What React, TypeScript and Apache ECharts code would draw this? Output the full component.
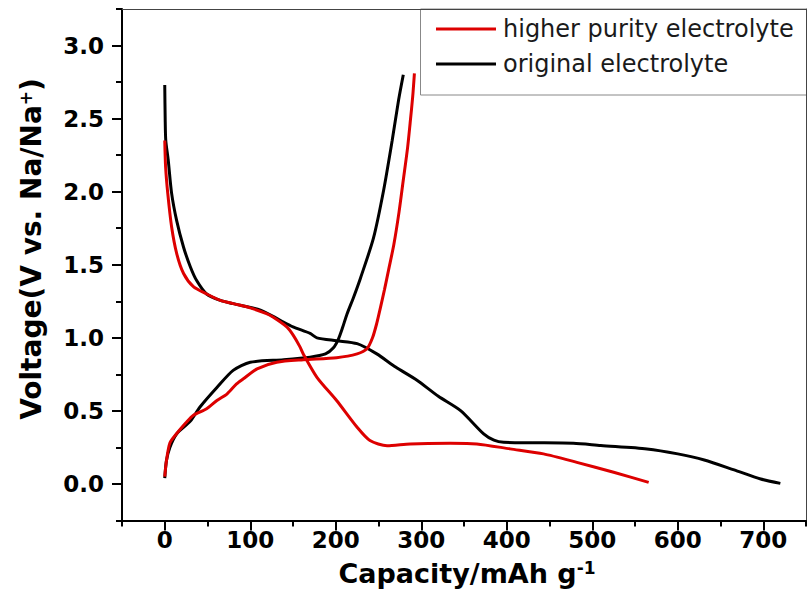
import React, { useEffect, useRef } from "react";
import * as echarts from "echarts";

const FONT = "DejaVu Sans";

const xMajorTicks = [0, 100, 200, 300, 400, 500, 600, 700];
const xMinorTicks = [-50, 50, 150, 250, 350, 450, 550, 650, 750];
const yMajorTicks = [0, 0.5, 1.0, 1.5, 2.0, 2.5, 3.0];
const yMinorTicks = [-0.25, 0.25, 0.75, 1.25, 1.75, 2.25, 2.75, 3.25];

const legendNames = ["higher purity electrolyte", "original electrolyte"];

// higher purity electrolyte: discharge
const redDischarge: [number, number][] = [
  [0, 2.35], [1, 2.17], [3.5, 1.99], [8, 1.76], [14, 1.576], [22, 1.44],
  [33.5, 1.35], [49, 1.3], [65, 1.256], [80, 1.234], [100, 1.205], [119, 1.165],
  [127, 1.14], [143, 1.073], [150, 1.02], [158, 0.94], [162, 0.89], [178, 0.73],
  [201, 0.571], [225, 0.388], [240, 0.297], [260, 0.262], [287, 0.274],
  [334, 0.278], [365, 0.274], [404, 0.24], [443, 0.206], [482, 0.148],
  [525, 0.08], [566, 0.011],
];
// higher purity electrolyte: charge
const redCharge: [number, number][] = [
  [0, 0.05], [2, 0.16], [6, 0.28], [14, 0.345], [25, 0.42], [33.5, 0.47],
  [49, 0.514], [61, 0.571], [73, 0.617], [84, 0.685], [92, 0.72], [108, 0.788],
  [131, 0.833], [162, 0.85], [201, 0.864], [225, 0.89], [236.5, 0.925],
  [243, 1.0], [248, 1.1], [252, 1.2], [257, 1.33], [262, 1.47], [268, 1.64],
  [274, 1.86], [279, 2.08], [284, 2.3], [287, 2.47], [290, 2.65], [292, 2.81],
];
// original electrolyte: discharge
const blackDischarge: [number, number][] = [
  [0, 2.73], [0.5, 2.5], [1.2, 2.35], [4, 2.22], [8, 1.99], [14, 1.8],
  [22, 1.62], [30, 1.485], [37.5, 1.39], [49, 1.3], [65, 1.256], [80, 1.234],
  [112, 1.19], [135, 1.12], [150, 1.075], [170, 1.03], [178, 1.0], [201, 0.98],
  [225, 0.96], [248, 0.89], [270, 0.8], [295, 0.71], [320, 0.6], [346, 0.502],
  [373, 0.343], [385, 0.3], [396.5, 0.285], [430, 0.282], [478, 0.278],
  [510, 0.263], [564, 0.24], [600, 0.206], [631, 0.164], [666, 0.096],
  [697, 0.034], [720, 0.004],
];
// original electrolyte: charge
const blackCharge: [number, number][] = [
  [0, 0.04], [2, 0.16], [6, 0.25], [14, 0.343], [30, 0.43], [41, 0.525],
  [61, 0.66], [80, 0.777], [100, 0.833], [139, 0.85], [170, 0.868],
  [188, 0.89], [197, 0.93], [203, 0.99], [208, 1.07], [213, 1.16],
  [221, 1.28], [229, 1.41], [244, 1.68], [256, 2.01], [266, 2.35],
  [273.5, 2.627], [279, 2.8],
];

const RED = "#dd0000";
const BLACK = "#000000";

export default function App() {
  const ref = useRef<HTMLDivElement>(null);
  useEffect(() => {
    if (!ref.current) return;
    const chart = echarts.init(ref.current, undefined, { renderer: "svg" });
    const lineSeries = (name: string, data: [number, number][], color: string) => ({
      name,
      type: "line",
      data,
      xAxisIndex: 0,
      yAxisIndex: 0,
      symbol: "none",
      smooth: 0.25,
      lineStyle: { color, width: 3 },
      itemStyle: { color },
      z: color === RED ? 3 : 2,
    });
    const tickLabelStyle = {
      fontFamily: FONT,
      fontSize: 23,
      fontWeight: "bold",
      color: "#000",
    };
    chart.setOption({
      animation: false,
      grid: { left: 122, right: 1, top: 9, bottom: 89.5, containLabel: false },
      legend: {
        data: legendNames,
        orient: "vertical",
        left: 436,
        top: 17,
        itemWidth: 60,
        itemHeight: 3,
        itemGap: 11,
        icon: "rect",
        padding: 0,
        textStyle: { fontFamily: FONT, fontSize: 24, color: "#1a1a1a", padding: [0, 0, 0, 2] },
      },
      xAxis: [
        {
          type: "value",
          min: -50,
          max: 750,
          interval: 50,
          position: "bottom",
          axisLine: { show: true, onZero: false, lineStyle: { color: "#000", width: 2 } },
          axisTick: { show: true, customValues: xMajorTicks, length: 10, lineStyle: { color: "#000", width: 2 } },
          axisLabel: { show: true, customValues: xMajorTicks, margin: 8, ...tickLabelStyle },
          splitLine: { show: false },
        },
        {
          type: "value",
          min: -50,
          max: 750,
          interval: 50,
          position: "bottom",
          axisLine: { show: false, onZero: false },
          axisTick: { show: true, customValues: xMinorTicks, length: 6, lineStyle: { color: "#000", width: 2 } },
          axisLabel: { show: false },
          splitLine: { show: false },
        },
        {
          type: "value",
          min: -50,
          max: 750,
          position: "top",
          axisLine: { show: true, onZero: false, lineStyle: { color: "#444", width: 1 } },
          axisTick: { show: false },
          axisLabel: { show: false },
          splitLine: { show: false },
        },
      ],
      yAxis: [
        {
          type: "value",
          min: -0.25,
          max: 3.25,
          interval: 0.25,
          position: "left",
          axisLine: { show: true, onZero: false, lineStyle: { color: "#000", width: 2 } },
          axisTick: { show: true, customValues: yMajorTicks, length: 10, lineStyle: { color: "#000", width: 2 } },
          axisLabel: {
            show: true,
            customValues: yMajorTicks,
            margin: 18,
            formatter: (v: number) => v.toFixed(1),
            ...tickLabelStyle,
          },
          splitLine: { show: false },
        },
        {
          type: "value",
          min: -0.25,
          max: 3.25,
          interval: 0.25,
          position: "left",
          axisLine: { show: false, onZero: false },
          axisTick: { show: true, customValues: yMinorTicks, length: 6, lineStyle: { color: "#000", width: 2 } },
          axisLabel: { show: false },
          splitLine: { show: false },
        },
        {
          type: "value",
          min: -0.25,
          max: 3.25,
          position: "right",
          axisLine: { show: true, onZero: false, lineStyle: { color: "#444", width: 1 } },
          axisTick: { show: false },
          axisLabel: { show: false },
          splitLine: { show: false },
        },
      ],
      graphic: [
        {
          type: "rect",
          shape: { x: 420.5, y: 9, width: 386, height: 86 },
          style: { fill: "none", stroke: "#888", lineWidth: 1 },
          silent: true,
        },
        {
          type: "text",
          x: 467,
          y: 573,
          style: {
            text: "{a|Capacity/mAh g}{s|-1}",
            align: "center",
            verticalAlign: "middle",
            rich: {
              a: { fontFamily: FONT, fontSize: 27, fontWeight: "bold", fill: "#000", lineHeight: 28 },
              s: { fontFamily: FONT, fontSize: 17, fontWeight: "bold", fill: "#000", lineHeight: 17, verticalAlign: "top" },
            },
          },
        },
        {
          type: "text",
          x: 31.5,
          y: 249,
          rotation: Math.PI / 2,
          style: {
            text: "{a|Voltage(V vs. Na/Na}{s|+}{a|)}",
            align: "center",
            verticalAlign: "middle",
            rich: {
              a: { fontFamily: FONT, fontSize: 28, fontWeight: "bold", fill: "#000", lineHeight: 29 },
              s: { fontFamily: FONT, fontSize: 17, fontWeight: "bold", fill: "#000", lineHeight: 17, verticalAlign: "top" },
            },
          },
        },
      ],
      series: [
        lineSeries(legendNames[1], blackDischarge, BLACK),
        lineSeries(legendNames[1], blackCharge, BLACK),
        lineSeries(legendNames[0], redDischarge, RED),
        lineSeries(legendNames[0], redCharge, RED),
      ],
    });
    return () => chart.dispose();
  }, []);
  return (
    <div
      ref={ref}
      style={{ position: "fixed", left: 0, top: 0, width: 807, height: 610, background: "#fff" }}
    />
  );
}
